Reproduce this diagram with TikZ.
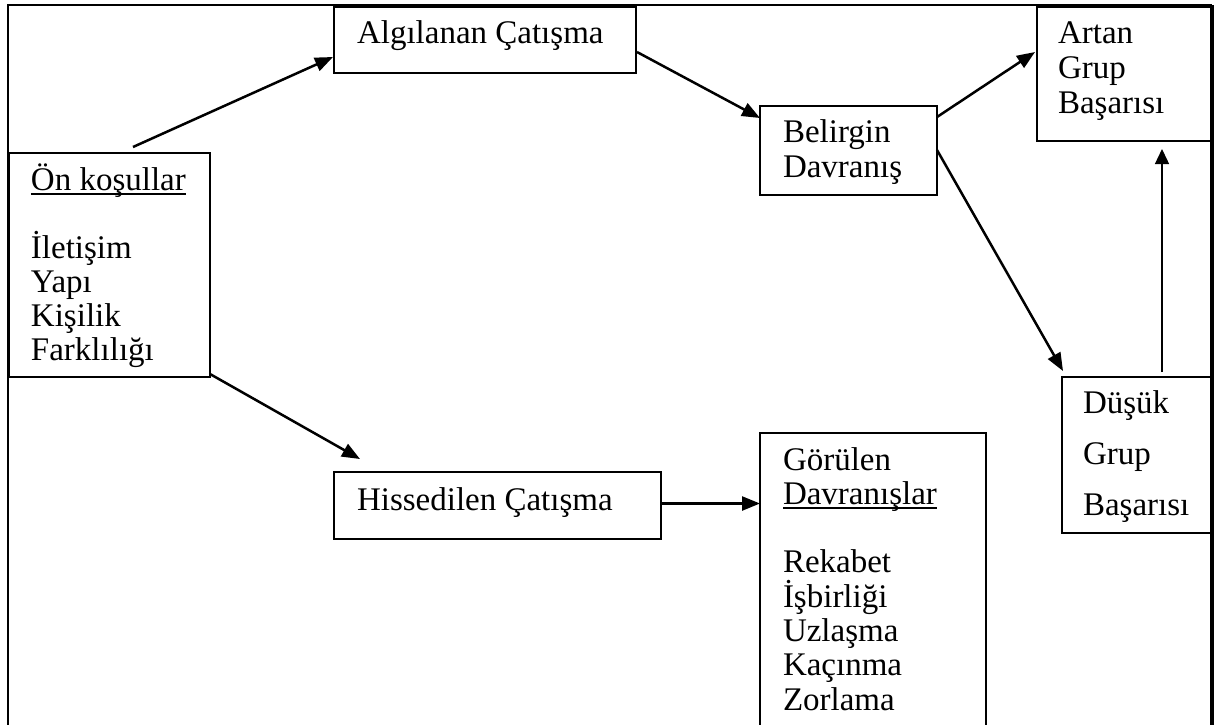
\documentclass[tikz,border=0pt]{standalone}
\usepackage{fontspec}
\setmainfont{Liberation Serif}
\usetikzlibrary{arrows.meta,calc}
\newcommand\ulx[1]{\leavevmode\setbox0=\hbox{#1}\rlap{\rule[-4.5pt]{\wd0}{1.5pt}}\box0}
% #1 width, #2 height, #3 left text offset, #4 top offset, #5 baselineskip, #6 content
\newcommand\bxc[6]{\parbox[t][#2][t]{#1}{\raggedright\leftskip=#3\relax
  \fontsize{33pt}{#5}\selectfont\lineskiplimit=-100pt\lineskip=0pt\parskip=0pt
  \vspace*{#4}\rule{0pt}{30pt}#6\par\vfill}}
\begin{document}
\begin{tikzpicture}[x=1pt,y=-1pt,
  bx/.style={draw, line width=1.8pt, inner sep=0pt, outer sep=0pt, anchor=north west},
  arr/.style={-{Triangle[length=18pt,width=14pt]}, line width=2.5pt},
  thinarr/.style={-{Triangle[length=15pt,width=14pt]}, line width=1.4pt}]
\useasboundingbox[fill=white] (0,0) rectangle (1215,724);
% outer frame
\draw[line width=2pt] (7.5,740) -- (7.5,5) -- (1212,5);
\draw[line width=3.5pt] (1212,5) -- (1212,740);
% boxes
\node[bx] (on) at (9,153) {\bxc{201pt}{224pt}{22pt}{7pt}{34pt}{\ulx{Ön koşullar}\\ \mbox{}\\ İletişim\\ Yapı\\ Kişilik\\ Farklılığı}};
\node[bx] (alg) at (334,7) {\bxc{302pt}{66pt}{23pt}{6pt}{34pt}{Algılanan Çatışma}};
\node[bx] (bel) at (760,106) {\bxc{177pt}{89pt}{23pt}{6pt}{35pt}{Belirgin\\ Davranış}};
\node[bx] (art) at (1037,7) {\bxc{175pt}{134pt}{21pt}{6pt}{35pt}{Artan\\ Grup\\ Başarısı}};
\node[bx] (dus) at (1062,377) {\bxc{151pt}{156pt}{21pt}{6pt}{51pt}{Düşük\\ Grup\\ Başarısı}};
\node[bx] (his) at (334,472) {\bxc{327pt}{67pt}{23pt}{8pt}{34pt}{Hissedilen Çatışma}};
\node[bx] (gor) at (760,433) {\bxc{226pt}{330pt}{23pt}{7pt}{34.3pt}{Görülen\\ \ulx{Davranışlar}\\ \mbox{}\\ Rekabet\\ İşbirliği\\ Uzlaşma\\ Kaçınma\\ Zorlama}};
% connectors
\draw[arr] ($(on.north west)+(124,-6)$) -- ($(alg.north west)+(-1,50)$);
\draw[arr] ($(alg.north east)+(1,45)$) -- ($(bel.north west)+(0,12)$);
\draw[arr] ($(bel.north east)+(0,11)$) -- ($(art.north west)+(-2,45)$);
\draw[arr] ($(bel.north east)+(0,44)$) -- ($(dus.north west)+(1,-6)$);
\draw[thinarr] ($(dus.north west)+(100,-5)$) -- ($(art.south west)+(125,8)$);
\draw[arr] ($(on.south east)+(0,-3)$) -- ($(his.north west)+(26,-13)$);
\draw[arr] ($(his.east)+(0,-2)$) -- ($(gor.west |- his.east)+(0,-2)$);
\end{tikzpicture}
\end{document}
